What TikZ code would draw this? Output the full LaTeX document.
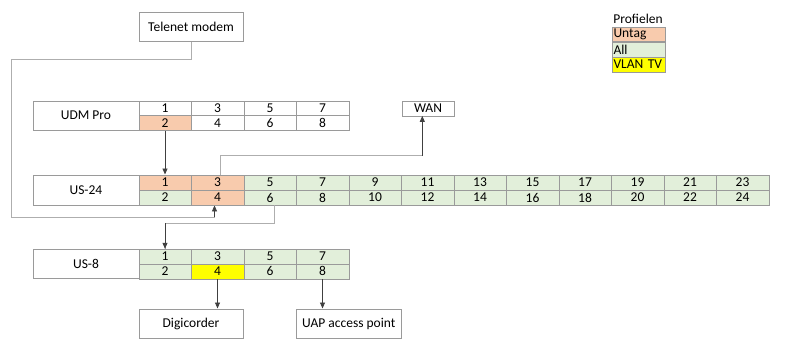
\documentclass[tikz,border=0pt]{standalone}
\usepackage{fontspec}
\setmainfont{Carlito}
\usetikzlibrary{arrows.meta}
\definecolor{untag}{HTML}{F8CBAD}
\definecolor{all}{HTML}{E2EFDA}
\definecolor{vlantv}{HTML}{FFFF00}
\definecolor{rim}{HTML}{9A9A9A}
\tikzset{
  box/.style={draw=rim, fill=white, minimum width=104.6pt, minimum height=29.6pt, inner sep=0pt},
  port/.style={draw=rim, minimum width=52.5pt, minimum height=15pt, inner sep=0pt},
  legendrow/.style={draw=rim, anchor=north west, minimum width=52.7pt, minimum height=14.7pt,
    text width=50pt, align=left, inner xsep=1.2pt, inner ysep=0pt},
  link/.style={draw=rim!80, line width=0.8pt},
  feed/.style={draw=black!75, line width=0.8pt, -{Triangle[length=6pt,width=5pt]}}
}
\begin{document}
\begin{tikzpicture}[x=1pt, y=-1pt, font=\fontsize{13.5}{15}\selectfont]
  \useasboundingbox (0,0) rectangle (800,346);

  % Devices
  \node[box] (modem) at (191,26.5) {Telenet modem};
  \node[box, minimum width=52.6pt, minimum height=15pt] (wan) at (428,108.2) {WAN};
  \node[box] (digi) at (191,323.5) {Digicorder};
  \node[box, minimum width=105.7pt] (uap) at (348.8,323.5) {UAP access point};

  % Switch labels
  \node[box, minimum width=105.4pt] (udm) at (86,115.5) {UDM Pro};
  \node[box, minimum width=105.4pt, minimum height=30.3pt] (us24) at (86,189.85) {US-24};
  \node[box, minimum width=105.4pt] (us8) at (86,263.85) {US-8};

  % UDM Pro ports
  \foreach \p in {1,...,8} {
    \pgfmathtruncatemacro\col{(\p-1)/2}
    \pgfmathtruncatemacro\row{mod(\p-1,2)}
    \def\clr{white}
    \ifnum\p=2 \def\clr{untag}\fi
    \node[port, fill=\clr] (udm\p) at ({165+52.5*\col}, {108.2+14.8*\row}) {\p};
  }

  % US-24 ports
  \foreach \p in {1,...,24} {
    \pgfmathtruncatemacro\col{(\p-1)/2}
    \pgfmathtruncatemacro\row{mod(\p-1,2)}
    \def\clr{all}
    \ifnum\p=1 \def\clr{untag}\fi
    \ifnum\p=3 \def\clr{untag}\fi
    \ifnum\p=4 \def\clr{untag}\fi
    \node[port, fill=\clr, minimum height=15.3pt] (us\p) at ({165+52.5*\col}, {182.35+15.2*\row}) {\p};
  }

  % US-8 ports
  \foreach \p in {1,...,8} {
    \pgfmathtruncatemacro\col{(\p-1)/2}
    \pgfmathtruncatemacro\row{mod(\p-1,2)}
    \def\clr{all}
    \ifnum\p=4 \def\clr{vlantv}\fi
    \node[port, fill=\clr] (usa\p) at ({165+52.5*\col}, {256.5+14.7*\row}) {\p};
  }

  % Telenet modem -> US-24 port 4
  \coordinate (tm1) at (11.7,59.3);
  \coordinate (tm2) at (11.7,217.3);
  \draw[link] (modem.south) |- (tm1) -- (tm2) -| ([xshift=-3pt]us4.south);
  \draw[feed] ([xshift=-3pt]us4.south |- tm2) -- ([xshift=-3pt]us4.south);

  % UDM Pro port 2 -> US-24 port 1
  \draw[feed] (udm2.south) -- (us1.north);

  % US-24 port 3 -> WAN
  \coordinate (wn) at (422.3,155.7);
  \draw[link] ([xshift=3pt]us3.north) |- (wn);
  \draw[feed] (wn) -- (wn |- wan.south);

  % US-24 port 6 -> US-8 port 1
  \coordinate (sw) at (0,223.3);
  \draw[link] ([xshift=4pt]us6.south) |- (sw -| usa1.north) -- (usa1.north);
  \draw[feed] (sw -| usa1.north) -- (usa1.north);

  % US-8 -> end devices
  \draw[feed] (usa4.south) -- (usa4.south |- digi.north);
  \draw[feed] (usa8.south) -- (usa8.south |- uap.north);

  % Legend
  \node[anchor=west, inner sep=1.2pt] (leg) at (612,19.3) {Profielen};
  \node[legendrow, fill=untag] (leg1) at (612,26.7) {Untag};
  \node[legendrow, fill=all] (leg2) at (leg1.south west) {All};
  \node[legendrow, fill=vlantv] (leg3) at (leg2.south west) {VLAN TV};
\end{tikzpicture}
\end{document}
